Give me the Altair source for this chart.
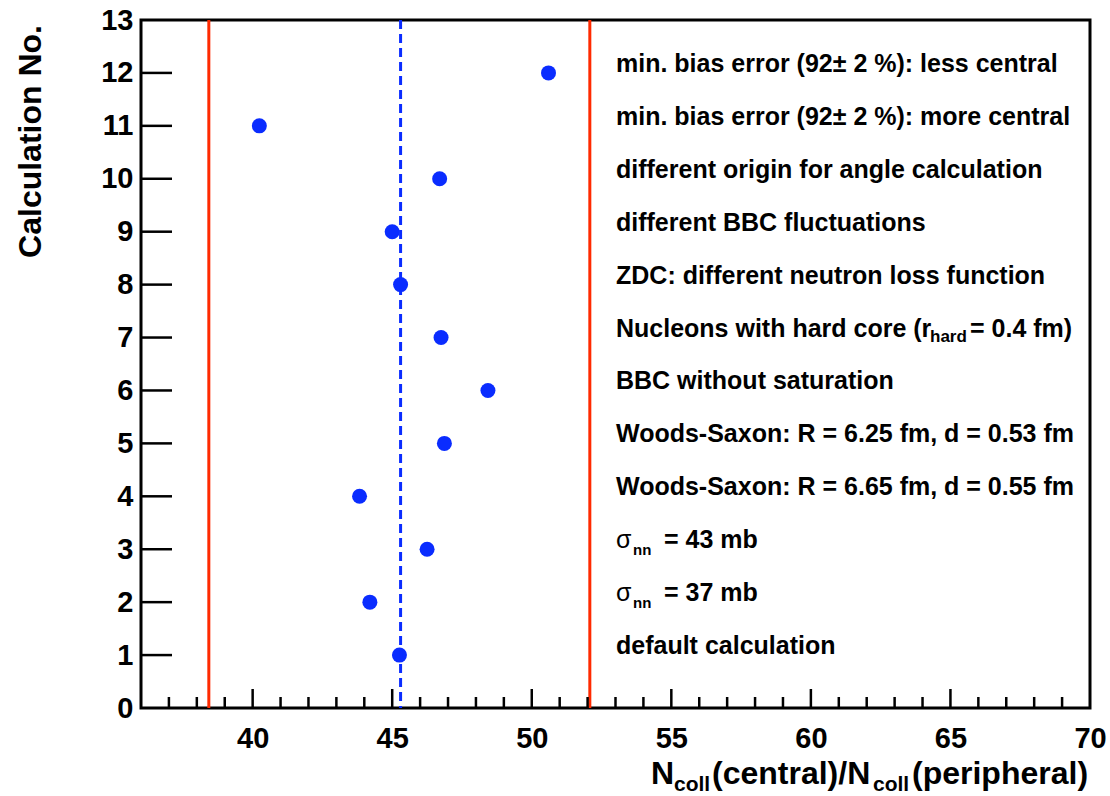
import altair as alt
import pandas as pd

# ---------------- data ----------------
calc_no = [1, 2, 3, 4, 5, 6, 7, 8, 9, 10, 11, 12]
ratio = [45.26, 44.20, 46.25, 43.83, 46.87, 48.43, 46.75, 45.30, 45.00, 46.70, 40.24, 50.60]
mean_ratio = [45.3]
band_limits = [38.43, 52.08]

x_major = [40, 45, 50, 55, 60, 65, 70]
x_minor = [v for v in range(37, 70) if v % 5 != 0]
y_ticks = list(range(1, 13))
y_labels = list(range(0, 14))

plain_rows = [12, 11, 10, 9, 8, 6, 5, 4, 1]
plain_texts = [
    "min. bias error (92\u00b1 2 %): less central",
    "min. bias error (92\u00b1 2 %): more central",
    "different origin for angle calculation",
    "different BBC fluctuations",
    "ZDC: different neutron loss function",
    "BBC without saturation",
    "Woods-Saxon: R = 6.25 fm, d = 0.53 fm",
    "Woods-Saxon: R = 6.65 fm, d = 0.55 fm",
    "default calculation",
]
hard_row = [7]
hard_parts = ["Nucleons with hard core (r", "hard", "= 0.4 fm)"]
sigma_rows = [3, 2]
sigma_rest = ["= 43 mb", "= 37 mb"]

# ---------------- style ----------------
FONT = "Liberation Sans"
BLUE = "#0a2cff"
RED = "#ff2a00"
W, H = 949, 688
TXT_X = 475  # pixel x of the annotation column
FS = 25

xs = alt.Scale(domain=[36, 70], nice=False, zero=False)
ys = alt.Scale(domain=[0, 13], nice=False, zero=False)

x_axis = alt.Axis(values=x_major, labelFontSize=29, labelFont=FONT, labelFontWeight="bold",
                  labelColor="black", ticks=False, tickSize=0, domain=False, grid=False,
                  labelPadding=16, labelFlush=False, labelOverlap=False, labelBound=False)
y_axis = alt.Axis(values=y_labels, labelFontSize=29, labelFont=FONT, labelFontWeight="bold",
                  labelColor="black", ticks=False, tickSize=0, domain=False, grid=False,
                  labelPadding=8, labelFlush=False, labelOverlap=False, labelBound=False,
                  labelAlign="right", labelBaseline="middle")


def X(field):
    return alt.X(field, scale=xs, axis=x_axis, title=None)


def Y(field):
    return alt.Y(field, scale=ys, axis=y_axis, title=None)


pts = pd.DataFrame({"calc": calc_no, "ratio": ratio})

points = alt.Chart(pts).mark_circle(size=225, color=BLUE, opacity=1).encode(
    x=X("ratio:Q"), y=Y("calc:Q"),
)

red_lines = alt.Chart(pd.DataFrame({"v": band_limits})).mark_rule(color=RED, strokeWidth=3).encode(
    x=X("v:Q")
)
mean_line = alt.Chart(pd.DataFrame({"v": mean_ratio})).mark_rule(
    color=BLUE, strokeWidth=3, strokeDash=[9, 5]).encode(x=X("v:Q"))

major_ticks = alt.Chart(pd.DataFrame({"v": x_major[:-1]})).mark_rule(color="black", strokeWidth=2.5).encode(
    x=X("v:Q"), y=alt.value(H), y2=alt.value(H - 19)
)
minor_ticks = alt.Chart(pd.DataFrame({"v": x_minor})).mark_rule(color="black", strokeWidth=2.5).encode(
    x=X("v:Q"), y=alt.value(H), y2=alt.value(H - 11)
)
ytick_marks = alt.Chart(pd.DataFrame({"v": y_ticks})).mark_rule(color="black", strokeWidth=2.5).encode(
    y=Y("v:Q"), x=alt.value(0), x2=alt.value(31)
)


def txt(df, field, dx=0, dy=-1, size=FS, weight="bold"):
    return alt.Chart(df).mark_text(align="left", baseline="alphabetic", font=FONT, fontSize=size,
                                   fontWeight=weight, color="black", dx=dx, dy=dy).encode(
        x=alt.value(TXT_X),
        y=Y("row:Q"),
        text=f"{field}:N",
    )


plain_df = pd.DataFrame({"row": plain_rows, "t": plain_texts})
hard_df = pd.DataFrame({"row": hard_row, "a": [hard_parts[0]], "b": [hard_parts[1]], "c": [hard_parts[2]]})
sigma_df = pd.DataFrame({"row": sigma_rows, "s": ["\u03c3"] * 2, "nn": ["nn"] * 2, "rest": sigma_rest})

labels = (
    txt(plain_df, "t")
    + txt(hard_df, "a")
    + txt(hard_df, "b", dx=314, dy=4, size=17)
    + txt(hard_df, "c", dx=354)
    + txt(sigma_df, "s", weight="normal")
    + txt(sigma_df, "nn", dx=17, dy=6, size=15)
    + txt(sigma_df, "rest", dx=48)
)

# x axis title with subscripts
title_parts = ["N", "coll", "(central)/N", "coll", "(peripheral)"]
title_df = pd.DataFrame({"t": title_parts, "k": list(range(5))})


def title_seg(i, px, sub):
    return alt.Chart(title_df).transform_filter(alt.datum.k == i).mark_text(
        align="left", baseline="alphabetic", font=FONT, fontSize=21 if sub else 32,
        fontWeight="bold", color="black").encode(
        x=alt.value(px), y=alt.value(H + 83 if sub else H + 76), text="t:N")


xtitle = (title_seg(0, 510, False) + title_seg(1, 533, True) + title_seg(2, 571, False)
          + title_seg(3, 732, True) + title_seg(4, 771, False))

ytitle = alt.Chart(pd.DataFrame({"t": ["Calculation No."]})).mark_text(
    align="right", baseline="alphabetic", angle=270, font=FONT, fontSize=32,
    fontWeight="bold", color="black").encode(
    x=alt.value(-100), y=alt.value(5), text="t:N")

chart = alt.layer(
    points, red_lines, mean_line, major_ticks, minor_ticks, ytick_marks, labels, xtitle, ytitle
).properties(
    width=W, height=H,
    autosize=alt.AutoSizeParams(type="none"),
    padding={"left": 141, "top": 20, "right": 20, "bottom": 88},
    background="white",
).configure_view(stroke="black", strokeWidth=3)

chart.save("out.html", embed_options={"renderer": "svg", "actions": False})
